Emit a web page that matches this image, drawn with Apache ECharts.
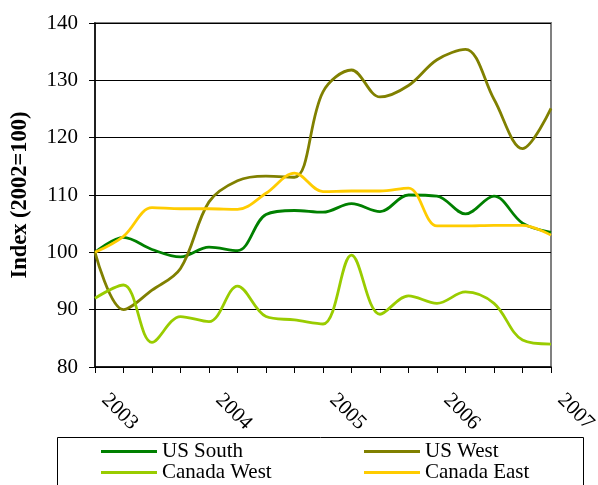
<!DOCTYPE html>
<html>
<head>
<meta charset="utf-8">
<script src="https://cdn.jsdelivr.net/npm/echarts@6/dist/echarts.min.js"></script>
<style>
html,body{margin:0;padding:0;background:#fff;}
#chart{width:598px;height:485px;}
</style>
</head>
<body>
<div id="chart"></div>
<script>
var quarters = ['2003Q1','2003Q2','2003Q3','2003Q4','2004Q1','2004Q2','2004Q3','2004Q4','2005Q1','2005Q2','2005Q3','2005Q4','2006Q1','2006Q2','2006Q3','2006Q4','2007Q1'];
var usSouth = [100, 102.6, 100.5, 99.2, 100.9, 100.3, 106.6, 107.3, 107.0, 108.5, 107.1, 110.0, 109.8, 106.7, 109.8, 105.1, 103.5];
var usWest = [100, 90.0, 93.4, 97.2, 108.8, 112.5, 113.3, 113.1, 128.0, 131.8, 127.1, 129.1, 133.6, 135.4, 126.7, 118.1, 125.1];
var canadaWest = [92.0, 94.3, 84.3, 88.8, 87.9, 94.1, 88.8, 88.2, 87.5, 99.5, 89.2, 92.4, 91.1, 93.1, 91.1, 84.7, 84.0];
var canadaEast = [100, 102.8, 107.8, 107.6, 107.6, 107.5, 110.3, 113.8, 110.6, 110.7, 110.7, 111.2, 104.6, 104.6, 104.7, 104.7, 103.0];
var seriesNames = ['US South', 'US West', 'Canada West', 'Canada East'];
var seriesColors = ['#008000', '#808000', '#99CC00', '#FFCC00'];
var yMin = 80, yMax = 140, yStep = 10;
var yTitle = 'Index (2002=100)';

var FONT = '"Liberation Serif", "Times New Roman", serif';
var chart = echarts.init(document.getElementById('chart'), null, {renderer: 'canvas'});

function mkSeries(name, data, color) {
  return {
    name: name, type: 'line', data: data, smooth: 0.35, showSymbol: false, symbol: 'none',
    lineStyle: {color: color, width: 2.8}, itemStyle: {color: color}, animation: false
  };
}

var legendCommon = {
  orient: 'vertical', icon: 'rect', itemWidth: 56, itemHeight: 3, itemGap: 0,
  textStyle: {fontFamily: FONT, fontSize: 21, color: '#000', lineHeight: 20},
  selectedMode: false, padding: 0
};

chart.setOption({
  animation: false,
  backgroundColor: '#fff',
  grid: {left: 95, right: 47, top: 23, bottom: 118, show: true, borderColor: '#808080', borderWidth: 2, backgroundColor: 'transparent', outerBoundsMode: 'none'},
  xAxis: {
    type: 'category', data: quarters, boundaryGap: false,
    axisLine: {lineStyle: {color: '#000', width: 1.5}},
    axisTick: {show: true, interval: 0, length: 6, inside: false, lineStyle: {color: '#000'}},
    axisLabel: {interval: 3, rotate: -45, margin: 20, padding: [0, 0, 0, 14], fontFamily: FONT, fontSize: 21, color: '#000',
      formatter: function (v) { return v.slice(0, 4); }},
    splitLine: {show: false}
  },
  yAxis: {
    type: 'value', min: yMin, max: yMax, interval: yStep,
    name: yTitle, nameLocation: 'middle', nameGap: 63, nameRotate: 90,
    nameTextStyle: {fontFamily: FONT, fontSize: 22.5, fontWeight: 'bold', color: '#000'},
    axisLine: {show: true, lineStyle: {color: '#000', width: 1.5}},
    axisTick: {show: true, length: 6, lineStyle: {color: '#000'}},
    axisLabel: {margin: 17, fontFamily: FONT, fontSize: 21, color: '#000'},
    splitLine: {show: true, lineStyle: {color: '#000', width: 1}}
  },
  legend: [
    Object.assign({}, legendCommon, {left: 101, top: 441, data: [seriesNames[0], seriesNames[2]]}),
    Object.assign({}, legendCommon, {left: 364, top: 441, data: [seriesNames[1], seriesNames[3]]})
  ],
  graphic: [{
    type: 'rect', shape: {x: 57.5, y: 437.5, width: 526, height: 60},
    style: {fill: 'none', stroke: '#000', lineWidth: 1}, silent: true
  }],
  series: [
    mkSeries(seriesNames[0], usSouth, seriesColors[0]),
    mkSeries(seriesNames[1], usWest, seriesColors[1]),
    mkSeries(seriesNames[2], canadaWest, seriesColors[2]),
    mkSeries(seriesNames[3], canadaEast, seriesColors[3])
  ]
});
</script>
</body>
</html>
